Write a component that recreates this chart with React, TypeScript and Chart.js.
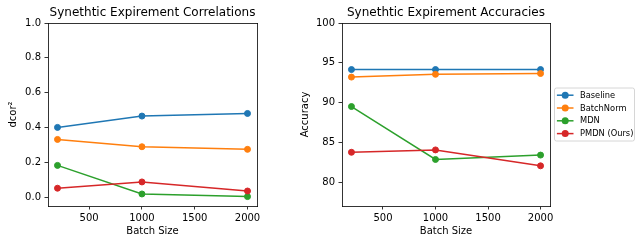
import React, { useEffect, useRef } from "react";
import { Chart, registerables } from "chart.js";

Chart.register(...registerables);

const batchSizes = [200, 1000, 2000];
const seriesLabels = ["Baseline", "BatchNorm", "MDN", "PMDN (Ours)"];
const seriesColors = ["#1f77b4", "#ff7f0e", "#2ca02c", "#d62728"];

const baselineCorr = [0.401, 0.466, 0.481];
const batchNormCorr = [0.332, 0.29, 0.275];
const mdnCorr = [0.183, 0.019, 0.004];
const pmdnCorr = [0.052, 0.088, 0.036];

const baselineAcc = [94.15, 94.15, 94.15];
const batchNormAcc = [93.2, 93.55, 93.65];
const mdnAcc = [89.5, 82.85, 83.4];
const pmdnAcc = [83.75, 84.05, 82.05];

const xTicks = [500, 1000, 1500, 2000];
const corrTicks = [0, 0.2, 0.4, 0.6, 0.8, 1.0];
const accTicks = [80, 85, 90, 95, 100];

const FONT = "'DejaVu Sans', sans-serif";
const BLACK = "#000000";

function makeDatasets(values: number[][]) {
  return values.map((vals, i) => ({
    label: seriesLabels[i],
    data: vals.map((v, j) => ({ x: batchSizes[j], y: v })),
    borderColor: seriesColors[i],
    backgroundColor: seriesColors[i],
    pointBackgroundColor: seriesColors[i],
    pointBorderColor: seriesColors[i],
    borderWidth: 1.5,
    pointRadius: 3,
    pointBorderWidth: 1,
    tension: 0,
    order: values.length - 1 - i,
  }));
}

const boxLegend = {
  id: "boxLegend",
  afterDraw(chart: any) {
    const { ctx, chartArea } = chart;
    const w = 80;
    const h = 53;
    const left = chartArea.right + 4.5;
    const top = (chartArea.top + chartArea.bottom) / 2 - h / 2;
    ctx.save();
    ctx.beginPath();
    const r = 2;
    ctx.moveTo(left + r, top);
    ctx.lineTo(left + w - r, top);
    ctx.arcTo(left + w, top, left + w, top + r, r);
    ctx.lineTo(left + w, top + h - r);
    ctx.arcTo(left + w, top + h, left + w - r, top + h, r);
    ctx.lineTo(left + r, top + h);
    ctx.arcTo(left, top + h, left, top + h - r, r);
    ctx.lineTo(left, top + r);
    ctx.arcTo(left, top, left + r, top, r);
    ctx.closePath();
    ctx.fillStyle = "rgba(255,255,255,0.8)";
    ctx.fill();
    ctx.strokeStyle = "#cccccc";
    ctx.lineWidth = 0.8;
    ctx.stroke();
    ctx.font = `8.3px ${FONT}`;
    ctx.textBaseline = "middle";
    ctx.textAlign = "left";
    chart.data.datasets.forEach((ds: any, i: number) => {
      const y = top + 7.2 + i * 12.8;
      ctx.strokeStyle = ds.borderColor;
      ctx.lineWidth = 1.5;
      ctx.beginPath();
      ctx.moveTo(left + 2.4, y);
      ctx.lineTo(left + 19, y);
      ctx.stroke();
      ctx.fillStyle = ds.borderColor;
      ctx.beginPath();
      ctx.arc(left + 10.7, y, 3.5, 0, Math.PI * 2);
      ctx.fill();
      ctx.fillStyle = BLACK;
      ctx.fillText(ds.label, left + 25.5, y + 0.5);
    });
    ctx.restore();
  },
};

function makeConfig(opts: {
  title: string;
  yTitle: string;
  yMin: number;
  yMax: number;
  yTicks: number[];
  yFmt: (v: number) => string;
  values: number[][];
  yWidth: number;
  yTitlePad: number;
  rightPad: number;
  legend: boolean;
}): any {
  const tickFont = { family: FONT, size: 10 };
  const border = { display: true, color: BLACK, width: 0.8 };
  const tickGrid = {
    display: true,
    drawOnChartArea: false,
    drawTicks: true,
    tickLength: 3.5,
    color: BLACK,
    lineWidth: 0.8,
  };
  return {
    type: "line",
    data: { datasets: makeDatasets(opts.values) },
    options: {
      responsive: false,
      animation: false,
      devicePixelRatio: 1,
      layout: { padding: { left: 0, right: opts.rightPad, top: 0, bottom: 0 } },
      plugins: {
        legend: { display: false },
        title: { display: false },
        tooltip: { enabled: false },
      },
      scales: {
        x: {
          type: "linear",
          position: "bottom",
          min: 110,
          max: 2090,
          afterBuildTicks: (s: any) => {
            s.ticks = xTicks.map((v) => ({ value: v }));
          },
          ticks: {
            font: tickFont,
            color: BLACK,
            padding: 3,
            maxRotation: 0,
            autoSkip: false,
            callback: (v: any) => String(v),
          },
          grid: tickGrid,
          border,
          title: {
            display: true,
            text: "Batch Size",
            font: tickFont,
            color: BLACK,
            padding: { top: 0, bottom: 6.6 },
          },
          afterFit: (s: any) => {
            s.height = 38;
          },
        },
        xTop: {
          type: "linear",
          position: "top",
          min: 0,
          max: 1,
          ticks: { display: false },
          grid: { display: false, drawTicks: false },
          border,
          title: {
            display: true,
            text: opts.title,
            font: { family: FONT, size: 12 },
            color: BLACK,
            padding: { top: 5.8, bottom: 0 },
          },
          afterFit: (s: any) => {
            s.height = 23;
          },
        },
        y: {
          type: "linear",
          position: "left",
          min: opts.yMin,
          max: opts.yMax,
          afterBuildTicks: (s: any) => {
            s.ticks = opts.yTicks.map((v) => ({ value: v }));
          },
          ticks: {
            font: tickFont,
            color: BLACK,
            padding: 3.5,
            autoSkip: false,
            callback: (v: any) => opts.yFmt(Number(v)),
          },
          grid: tickGrid,
          border,
          title: {
            display: true,
            text: opts.yTitle,
            font: tickFont,
            color: BLACK,
            padding: { top: opts.yTitlePad, bottom: 0 },
          },
          afterFit: (s: any) => {
            s.width = opts.yWidth;
          },
        },
        yRight: {
          type: "linear",
          position: "right",
          min: 0,
          max: 1,
          ticks: { display: false },
          grid: { display: false, drawTicks: false },
          border,
          afterFit: (s: any) => {
            s.width = 0;
          },
        },
      },
    },
    plugins: opts.legend ? [boxLegend] : [],
  };
}

export default function App() {
  const leftRef = useRef<HTMLCanvasElement>(null);
  const rightRef = useRef<HTMLCanvasElement>(null);

  useEffect(() => {
    const left = new Chart(
      leftRef.current as HTMLCanvasElement,
      makeConfig({
        title: "Synethtic Expirement Correlations",
        yTitle: "dcor²",
        yMin: -0.05,
        yMax: 1.0,
        yTicks: corrTicks,
        yFmt: (v) => v.toFixed(1),
        values: [baselineCorr, batchNormCorr, mdnCorr, pmdnCorr],
        yWidth: 48,
        yTitlePad: 7.3,
        rightPad: 13,
        legend: false,
      })
    );
    const right = new Chart(
      rightRef.current as HTMLCanvasElement,
      makeConfig({
        title: "Synethtic Expirement Accuracies",
        yTitle: "Accuracy",
        yMin: 77,
        yMax: 100,
        yTicks: accTicks,
        yFmt: (v) => String(Math.round(v)),
        values: [baselineAcc, batchNormAcc, mdnAcc, pmdnAcc],
        yWidth: 72,
        yTitlePad: 29,
        rightPad: 90,
        legend: true,
      })
    );
    return () => {
      left.destroy();
      right.destroy();
    };
  }, []);

  return (
    <div
      style={{
        position: "fixed",
        left: 0,
        top: 0,
        width: 640,
        height: 244,
        background: "#ffffff",
      }}
    >
      <canvas
        ref={leftRef}
        width={270}
        height={244}
        style={{ position: "absolute", left: 0, top: 0, width: 270, height: 244 }}
      />
      <canvas
        ref={rightRef}
        width={370}
        height={244}
        style={{ position: "absolute", left: 270, top: 0, width: 370, height: 244 }}
      />
    </div>
  );
}
